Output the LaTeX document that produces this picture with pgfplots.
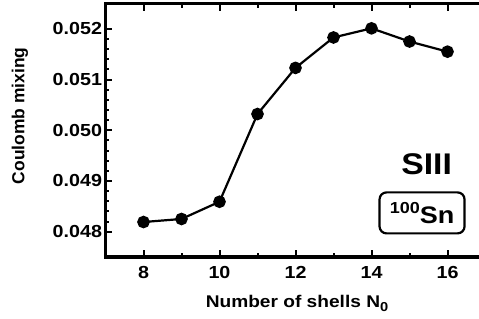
\documentclass[border=0pt]{standalone}
\usepackage{fontspec}
\setmainfont[FakeStretch=1.13]{Liberation Sans}
\newfontfamily\plainfont{Liberation Sans}
\usepackage{pgfplots}
\pgfplotsset{compat=1.18}
\begin{document}
\begin{tikzpicture}[x=1bp,y=1bp]
\useasboundingbox (-105.5,-61) rectangle (373.5,257);
\begin{axis}[
  at={(0,0)}, anchor=south west, scale only axis,
  width=380bp, height=253.5bp,
  xmin=7, xmax=17, ymin=0.0475, ymax=0.0525,
  xtick={8,10,12,14,16}, minor xtick={7,9,11,13,15,17},
  ytick={0.048,0.049,0.050,0.051,0.052},
  minor y tick num=4,
  scaled y ticks=false,
  tick align=inside,
  major tick length=7bp, minor tick length=4bp,
  every tick/.style={black, line width=2bp},
  axis line style={line width=3.4bp},
  /pgf/number format/assume math mode=true,
  yticklabel style={/pgf/number format/fixed, /pgf/number format/fixed zerofill, /pgf/number format/precision=3, xshift=0bp},
  ticklabel style={font=\fontsize{17.5}{20}\selectfont\bfseries},
  xticklabel style={yshift=-6bp},
  xlabel={Number of shells N\raisebox{-0.35ex}{\fontsize{13}{13}\selectfont 0}},
  ylabel={Coulomb mixing},
  xlabel style={font=\fontsize{17}{20}\selectfont\bfseries, at={(axis description cs:0.504,-0.201)}, anchor=base},
  ylabel style={font=\plainfont\fontsize{17.5}{20}\selectfont\bfseries, at={(axis description cs:-0.225,0.557)}, anchor=center},
]
\addplot[black, line width=2.2bp, mark=*, mark size=5.2bp, mark options={solid, fill=black}] coordinates {
(8,0.04819) (9,0.04825) (10,0.04859) (11,0.05032) (12,0.05123)
(13,0.05183) (14,0.05201) (15,0.05175) (16,0.05155)
};
\node at (axis cs:15.45,0.04934) {\fontsize{30}{34}\selectfont\bfseries SIII};
\node[draw, line width=2.2bp, rounded corners=7bp, minimum width=85bp, minimum height=41bp, inner sep=0pt] at (axis cs:15.33,0.04837) {\fontsize{24}{26}\selectfont\bfseries\raisebox{0.42em}{\fontsize{16}{16}\selectfont 100}Sn};
\end{axis}
\end{tikzpicture}
\end{document}
